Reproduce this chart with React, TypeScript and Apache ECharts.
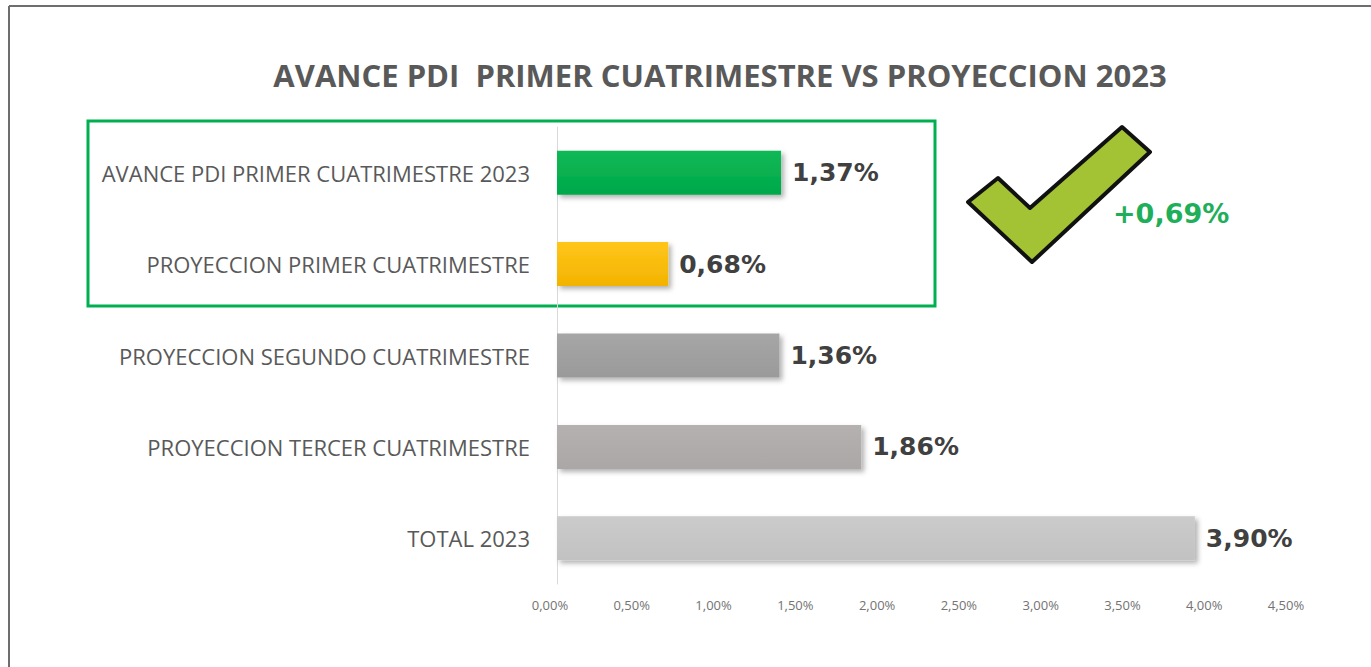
import React, { useEffect, useRef } from "react";
import * as echarts from "echarts";

const titleText = "AVANCE PDI  PRIMER CUATRIMESTRE VS PROYECCION 2023";
const categories = [
  "AVANCE PDI PRIMER CUATRIMESTRE 2023",
  "PROYECCION PRIMER CUATRIMESTRE",
  "PROYECCION SEGUNDO CUATRIMESTRE",
  "PROYECCION TERCER CUATRIMESTRE",
  "TOTAL 2023",
];
const values = [1.37, 0.68, 1.36, 1.86, 3.9];
const barColors = [
  ["#10B955", "#00A84A"],
  ["#FFC61A", "#F2B300"],
  ["#A6A6A6", "#9A9A9A"],
  ["#B5B1B1", "#ABA7A7"],
  ["#CBCBCB", "#C2C2C2"],
];
const differenceLabel = "+0,69%";
const axisMin = 0;
const axisMax = 4.5;
const axisInterval = 0.5;

const fmt = (v: number) => v.toFixed(2).replace(".", ",") + "%";

export default function App() {
  const ref = useRef<HTMLDivElement>(null);
  useEffect(() => {
    if (!ref.current) return;
    const chart = echarts.init(ref.current, undefined, { renderer: "svg" });
    chart.setOption({
      animation: false,
      backgroundColor: "#ffffff",
      title: {
        text: titleText,
        left: 715,
        textAlign: "center",
        top: 54,
        textStyle: {
          fontFamily: "Open Sans",
          fontWeight: "bold",
          fontSize: 31,
          color: "#595959",
        },
      },
      grid: { left: 557, right: 78, top: 127, bottom: 83 },
      xAxis: {
        type: "value",
        min: axisMin,
        max: axisMax,
        interval: axisInterval,
        splitLine: { show: false },
        axisLine: { show: false },
        axisTick: { show: false },
        axisLabel: {
          formatter: (v: number) => fmt(v),
          fontFamily: "Open Sans",
          fontSize: 13,
          color: "#737373",
          margin: 14,
          padding: [0, 14, 0, 0],
        },
      },
      yAxis: {
        type: "category",
        inverse: true,
        data: categories,
        axisLine: { show: true, lineStyle: { color: "#D9D9D9", width: 1 } },
        axisTick: { show: false },
        axisLabel: {
          fontFamily: "Open Sans",
          fontSize: 22,
          color: "#595959",
          margin: 27,
        },
      },
      series: [
        {
          type: "bar",
          barWidth: 44,
          data: values.map((v, i) => ({
            value: v,
            itemStyle: {
              color: new echarts.graphic.LinearGradient(0, 0, 0, 1, [
                { offset: 0, color: barColors[i][0] },
                { offset: 1, color: barColors[i][1] },
              ]),
              shadowColor: "rgba(0,0,0,0.3)",
              shadowBlur: 5,
              shadowOffsetX: 3,
              shadowOffsetY: 3,
            },
          })),
          label: {
            show: true,
            position: "right",
            distance: 11,
            formatter: (p: any) => fmt(p.value),
            fontFamily: "DejaVu Sans",
            fontWeight: "bold",
            fontSize: 25,
            color: "#404040",
          },
        },
      ],
      graphic: [
        {
          type: "line",
          shape: { x1: 9, y1: 6, x2: 1371, y2: 6 },
          style: { stroke: "#6E6E6E", lineWidth: 2 },
        },
        {
          type: "line",
          shape: { x1: 9, y1: 6, x2: 9, y2: 667 },
          style: { stroke: "#6E6E6E", lineWidth: 2 },
        },
        {
          type: "rect",
          shape: { x: 88, y: 121, width: 847, height: 185 },
          style: { fill: "none", stroke: "#00B050", lineWidth: 3 },
        },
        {
          type: "polygon",
          shape: {
            points: [
              [968, 202],
              [998, 178],
              [1030, 208],
              [1122, 127],
              [1150, 152],
              [1032, 262],
            ],
          },
          style: { fill: "#A3C234", stroke: "#111111", lineWidth: 4, lineJoin: "round" },
        },
        {
          type: "text",
          x: 1113,
          y: 213,
          style: {
            text: differenceLabel,
            fill: "#1FAE5A",
            fontFamily: "DejaVu Sans",
            fontWeight: "bold",
            fontSize: 27,
            verticalAlign: "middle",
          },
        },
      ],
    });
    return () => chart.dispose();
  }, []);
  return (
    <div
      ref={ref}
      style={{ position: "absolute", left: 0, top: 0, width: 1371, height: 667 }}
    />
  );
}
